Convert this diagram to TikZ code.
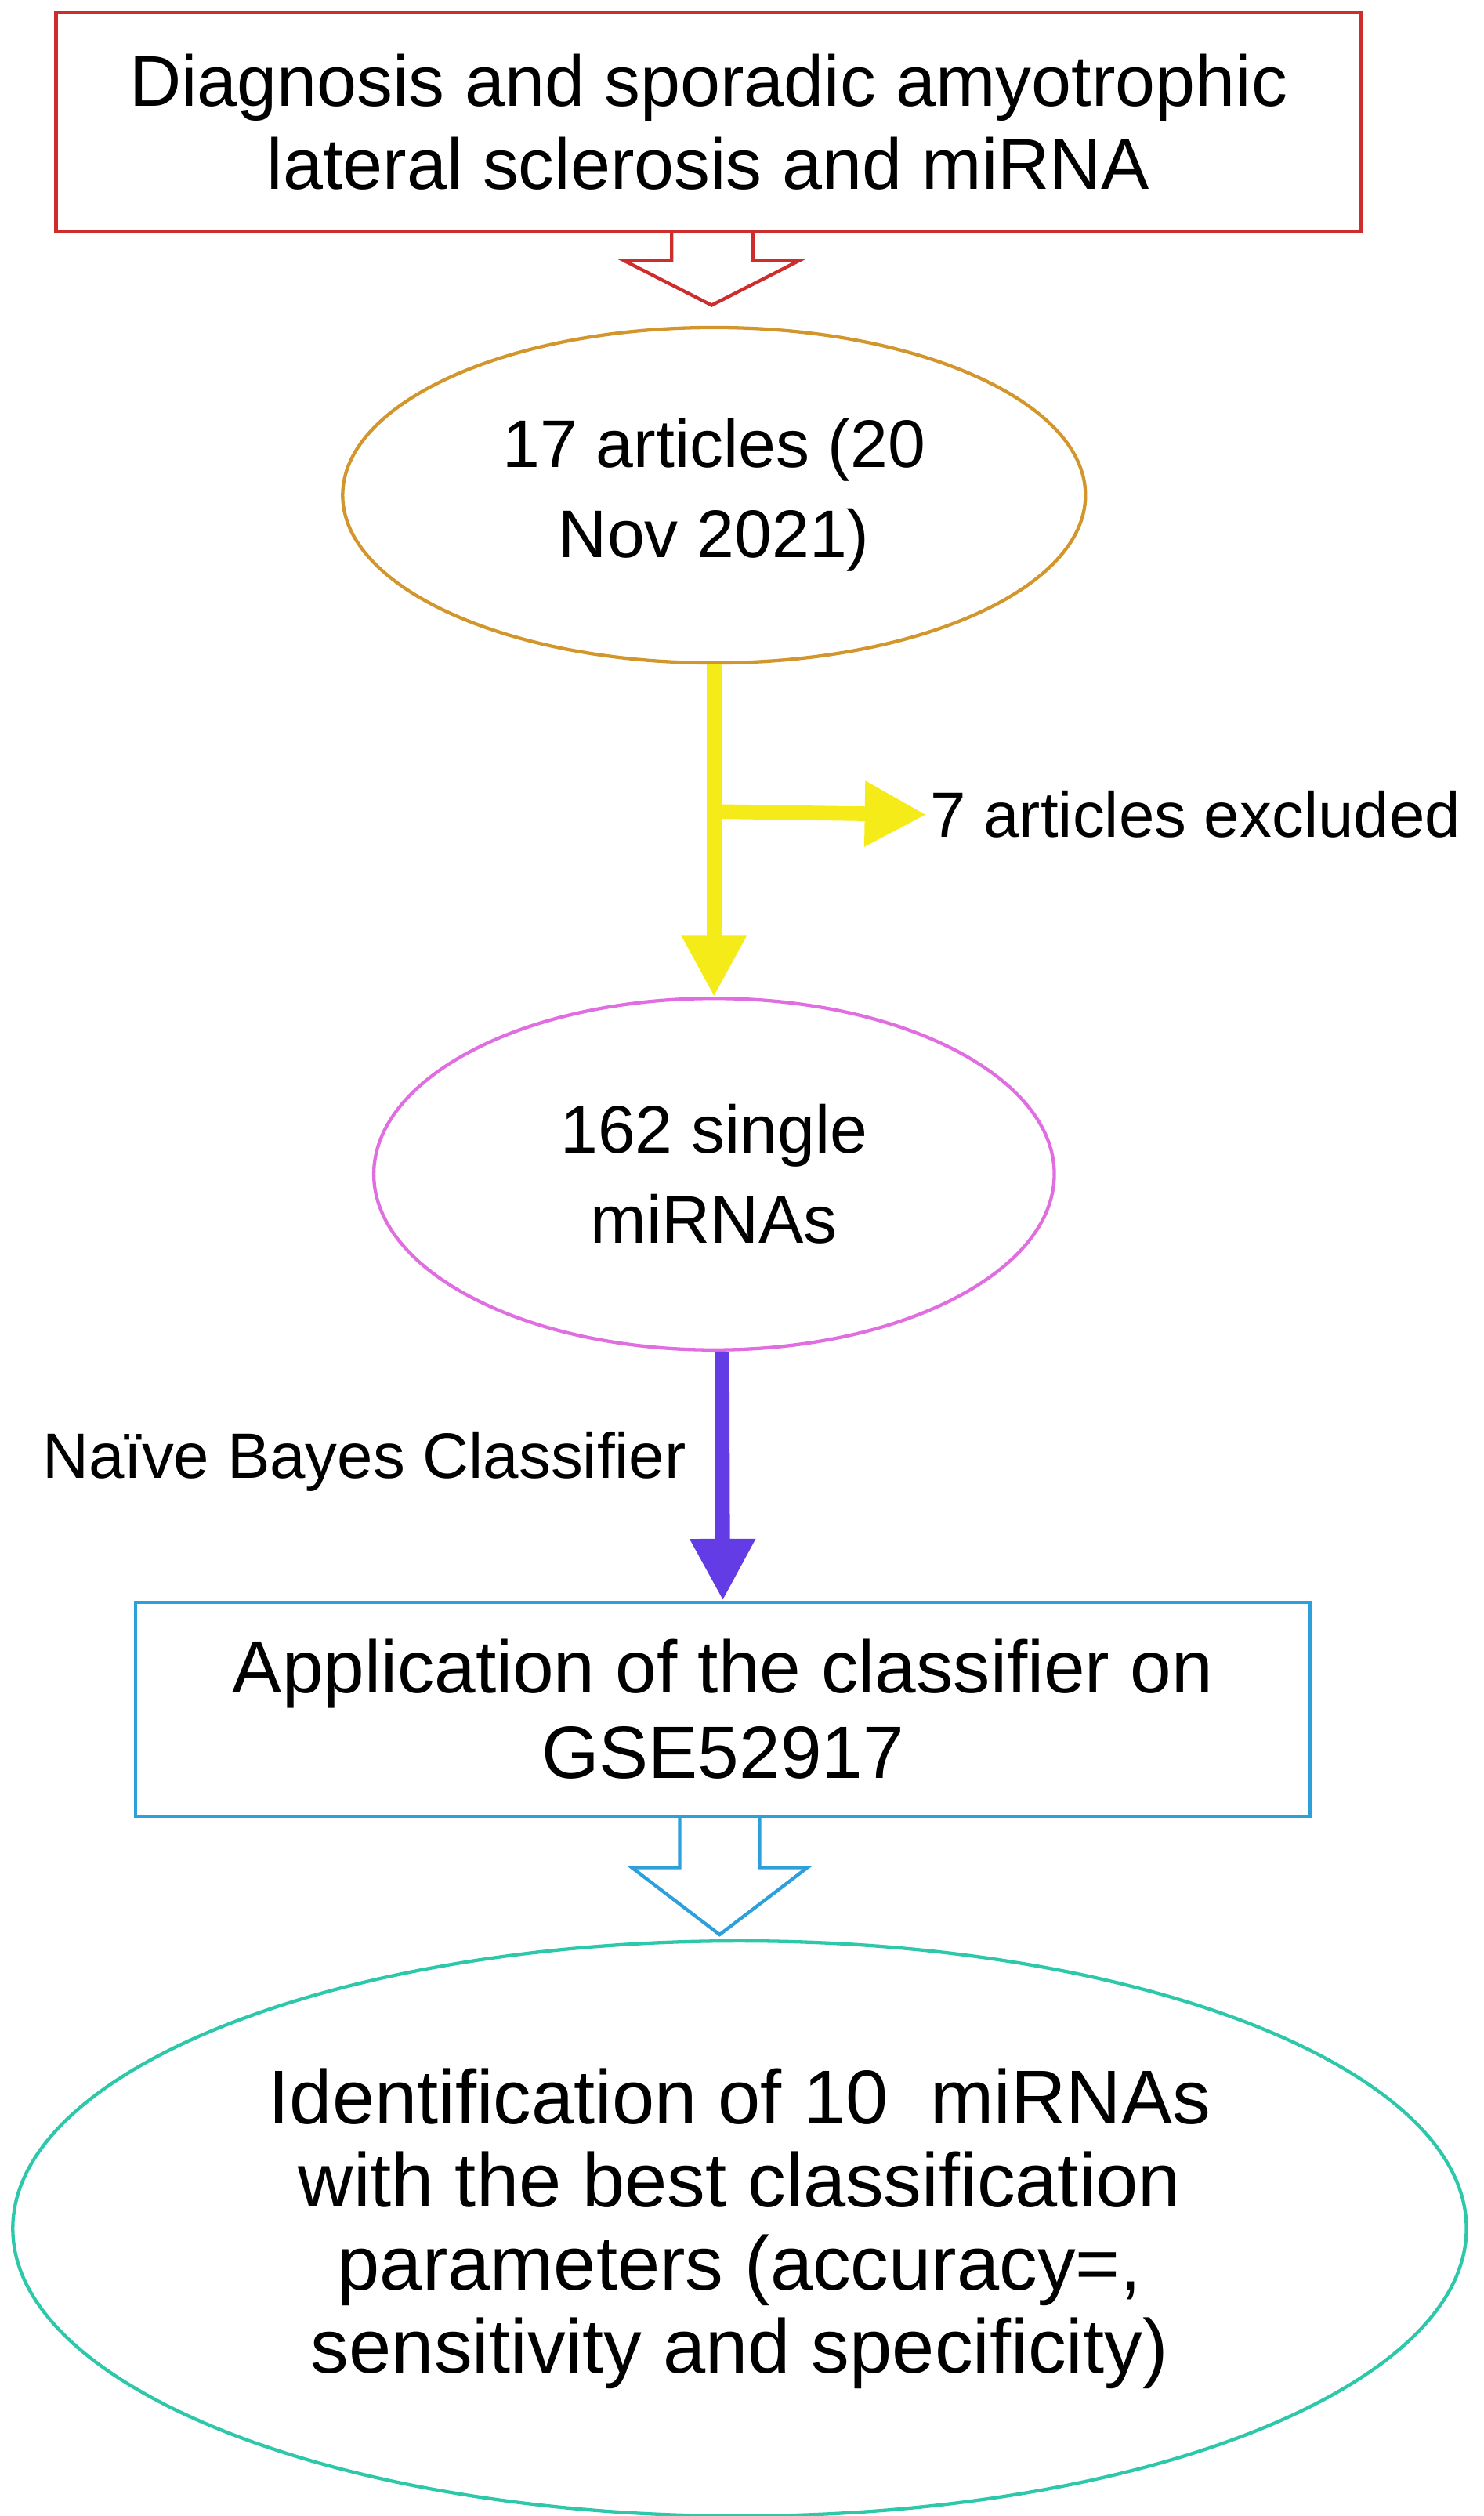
\documentclass[tikz,border=0pt]{standalone}
\usepackage{fontspec}
\setmainfont{Liberation Sans}
\usetikzlibrary{positioning,calc,shapes.geometric,arrows.meta}
\definecolor{boxred}{RGB}{205,45,45}
\definecolor{ellorange}{RGB}{210,150,45}
\definecolor{arryellow}{RGB}{245,235,25}
\definecolor{ellpink}{RGB}{225,110,225}
\definecolor{arrpurple}{RGB}{100,60,230}
\definecolor{boxblue}{RGB}{45,160,220}
\definecolor{ellteal}{RGB}{45,200,170}
\tikzset{
  stagebox/.style={draw, rectangle, line width=3pt, align=center},
  stageell/.style={draw, ellipse, line width=3pt, align=center, inner sep=0pt},
  fattip/.style={-{Triangle[length=55pt,width=55pt]}, line width=13pt},
}
\begin{document}
\begin{tikzpicture}[x=0.05cm,y=-0.05cm]
    \useasboundingbox (0,0) rectangle (929,1575);

    % Caja de la busqueda
    \node (search) [stagebox, draw=boxred, font=\fontsize{64}{74}\selectfont, minimum width=817*0.05cm, minimum height=137*0.05cm]
    at (443.5,76.5) {Diagnosis and sporadic amyotrophic\\lateral sclerosis and miRNA};

    % Articulos encontrados
    \node (found) [stageell, draw=ellorange, font=\fontsize{60}{80}\selectfont, minimum width=465*0.05cm, minimum height=210*0.05cm]
    at (447,310) {17 articles (20\\Nov 2021)};

    % miRNAs individuales
    \node (single) [stageell, draw=ellpink, font=\fontsize{60}{80}\selectfont, minimum width=426*0.05cm, minimum height=220*0.05cm]
    at (447,735) {162 single\\miRNAs};

    % Aplicacion del clasificador
    \node (apply) [stagebox, draw=boxblue, font=\fontsize{66}{76}\selectfont, minimum width=735*0.05cm, minimum height=134*0.05cm]
    at (452.5,1070) {Application of the classifier on\\GSE52917};

    % Identificacion final
    \node (result) [stageell, draw=ellteal, font=\fontsize{68}{74}\selectfont, minimum width=910*0.05cm, minimum height=360*0.05cm]
    at (463,1395) {Identification of 10~ miRNAs\\with the best classification\\parameters (accuracy=,\\sensitivity and specificity)};

    % Flecha hueca roja
    \draw[boxred, line width=3pt] ($(search.south)+(-23,0)$) -- ++(0,17) -- ++(-30,0)
      -- ($(search.south)+(2,45)$) -- ($(search.south)+(57,17)$) -- ++(-29,0) -- ++(0,-17);

    % Flecha amarilla con exclusion
    \draw[fattip, arryellow] (found.south) -- (single.north);
    \coordinate (branch) at (447,508);
    \node (excluded) [font=\fontsize{57}{70}\selectfont, anchor=west] at (580,510) {7 articles excluded};
    \draw[fattip, arryellow] (branch) -- (excluded.west);

    % Flecha morada del clasificador
    \draw[fattip, arrpurple] ($(single.south)+(5,0)$) -- (apply.north);
    \node (bayes) [font=\fontsize{57}{70}\selectfont, anchor=east] at (432,915) {Naïve Bayes Classifier};

    % Flecha hueca azul
    \draw[boxblue, line width=3pt] ($(apply.south)+(-27,0)$) -- ++(0,31) -- ++(-30,0)
      -- ($(apply.south)+(-2,73)$) -- ($(apply.south)+(53,31)$) -- ++(-30,0) -- ++(0,-31);

\end{tikzpicture}
\end{document}
